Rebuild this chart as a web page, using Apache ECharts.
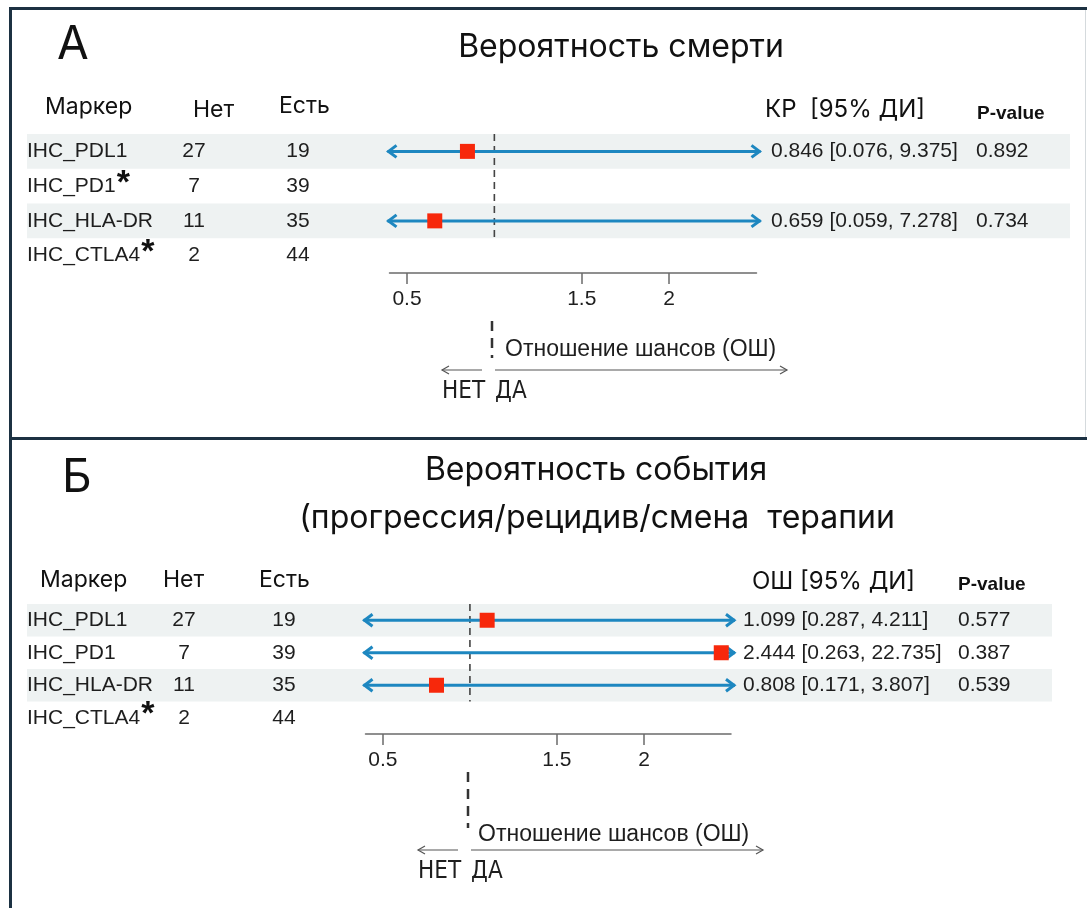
<!DOCTYPE html>
<html>
<head>
<meta charset="utf-8">
<script src="https://cdn.jsdelivr.net/npm/echarts@6/dist/echarts.min.js"></script>
<style>
  html, body { margin: 0; padding: 0; background: #fff; }
  #chart { width: 1087px; height: 908px; }
</style>
</head>
<body>
<div id="chart"></div>
<script>
// Rows shared by both forest plots
const markers  = ['IHC_PDL1', 'IHC_PD1', 'IHC_HLA-DR', 'IHC_CTLA4'];
const countNo  = [27, 7, 11, 2];
const countYes = [19, 39, 35, 44];

// Panel А — probability of death (КР, 95% ДИ)
const starA = [false, true, false, true];
const estA  = [0.846, null, 0.659, null];
const lowA  = [0.076, null, 0.059, null];
const highA = [9.375, null, 7.278, null];
const pA    = [0.892, null, 0.734, null];

// Panel Б — probability of event (ОШ, 95% ДИ)
const starB = [false, false, false, true];
const estB  = [1.099, 2.444, 0.808, null];
const lowB  = [0.287, 0.263, 0.171, null];
const highB = [4.211, 22.735, 3.807, null];
const pB    = [0.577, 0.387, 0.539, null];

// Odds-ratio axis
const axisMin = 0.4, axisMax = 2.5;
const tickValues = [0.5, 1.5, 2];
const refValue = 1;

const SANS = '"Liberation Sans", Arial, sans-serif';
const HEAD = 'Inter, "Noto Sans", sans-serif';
const NARROW = '"Liberation Sans Narrow", "DejaVu Sans Condensed", sans-serif';
const BLUE = '#1d87c0';
const RED = '#f7280b';
const TXT = '#1e1e1e';

const panels = [
  { grid: { left: 389.5, top: 134, width: 367, height: 139 },
    bandLeft: 27, bandRight: 1070, colLabel: 27, colNo: 194, colYes: 298, colCI: 771, colP: 976,
    star: starA, est: estA, low: lowA, high: highA, p: pA },
  { grid: { left: 365.5, top: 604, width: 365.5, height: 130 },
    bandLeft: 27, bandRight: 1052, colLabel: 27, colNo: 184, colYes: 284, colCI: 743, colP: 958,
    star: starB, est: estB, low: lowB, high: highB, p: pB }
];

const measureCtx = document.createElement('canvas').getContext('2d');
function textWidth(s, font) { measureCtx.font = font; return measureCtx.measureText(s).width; }

function txt(x, y, s, font, align, fill) {
  return { type: 'text', x: x, y: y, z2: 5,
    style: { text: s, x: 0, y: 0, font: font, fill: fill || TXT,
      align: align, textAlign: align, verticalAlign: 'middle', textVerticalAlign: 'middle' } };
}

// Row bands and table columns
function tableSeries(k, P) {
  const rowFont = '21px ' + SANS;
  return {
    type: 'custom', xAxisIndex: k, yAxisIndex: k, z: 1, silent: true,
    encode: { x: 0, y: 1 },
    data: markers.map((m, i) => [refValue, i]),
    renderItem(params, api) {
      const i = api.value(1);
      const y = api.coord([refValue, i])[1];
      const h = api.size([0, 1])[1];
      const children = [];
      if (i % 2 === 0) {
        children.push({ type: 'rect', z2: 0,
          shape: { x: P.bandLeft, y: y - h / 2, width: P.bandRight - P.bandLeft, height: h },
          style: { fill: '#eef2f2' } });
      }
      children.push(txt(P.colLabel, y, markers[i], rowFont, 'left'));
      if (P.star[i]) {
        const w = textWidth(markers[i], rowFont);
        children.push(txt(P.colLabel + w + 1, y - 3, '*', 'bold 34px ' + SANS, 'left', '#111'));
      }
      children.push(txt(P.colNo, y, String(countNo[i]), rowFont, 'center'));
      children.push(txt(P.colYes, y, String(countYes[i]), rowFont, 'center'));
      if (P.est[i] != null) {
        const ci = P.est[i].toFixed(3) + ' [' + P.low[i].toFixed(3) + ', ' + P.high[i].toFixed(3) + ']';
        children.push(txt(P.colCI, y, ci, rowFont, 'left'));
        children.push(txt(P.colP, y, P.p[i].toFixed(3), rowFont, 'left'));
      }
      return { type: 'group', children: children };
    }
  };
}

// Confidence intervals, clipped to the axis with arrowheads
function ciSeries(k, P) {
  const data = [];
  markers.forEach((m, i) => { if (P.low[i] != null) data.push([P.low[i], P.high[i], i]); });
  return {
    type: 'custom', xAxisIndex: k, yAxisIndex: k, z: 3, silent: true,
    encode: { x: [0, 1], y: 2 },
    data: data,
    renderItem(params, api) {
      const lo = api.value(0), hi = api.value(1), i = api.value(2);
      const y = api.coord([refValue, i])[1];
      const clipL = lo < axisMin, clipR = hi > axisMax;
      const x1 = api.coord([Math.max(lo, axisMin), i])[0] - (clipL ? 2 : 0);
      const x2 = api.coord([Math.min(hi, axisMax), i])[0] + (clipR ? 4 : 0);
      const st = { stroke: BLUE, lineWidth: 3, fill: null, lineJoin: 'miter' };
      const children = [{ type: 'line', shape: { x1: x1, y1: y, x2: x2, y2: y }, style: st }];
      if (clipL) children.push({ type: 'polyline', shape: { points: [[x1 + 9, y - 6], [x1 + 1, y], [x1 + 9, y + 6]] }, style: st });
      if (clipR) children.push({ type: 'polyline', shape: { points: [[x2 - 9, y - 6], [x2 - 1, y], [x2 - 9, y + 6]] }, style: st });
      return { type: 'group', children: children };
    }
  };
}

// Dashed line of no effect across the first three rows
function refSeries(k) {
  return {
    type: 'custom', xAxisIndex: k, yAxisIndex: k, z: 2, silent: true,
    encode: { x: 0, y: [1, 2] },
    data: [[refValue, 0, 2]],
    renderItem(params, api) {
      const v = api.value(0);
      const h = api.size([0, 1])[1];
      const x = api.coord([v, 0])[0];
      const y1 = api.coord([v, api.value(1)])[1] - h / 2;
      const y2 = api.coord([v, api.value(2)])[1] + h / 2;
      return { type: 'line', shape: { x1: x, y1: y1, x2: x, y2: y2 },
        style: { stroke: '#444', lineWidth: 1.6, lineDash: [7, 5] } };
    }
  };
}

function estSeries(k, P) {
  const data = [];
  P.est.forEach((v, i) => { if (v != null) data.push([v, i]); });
  return { type: 'scatter', xAxisIndex: k, yAxisIndex: k, z: 4, silent: true,
    symbol: 'rect', symbolSize: 15, itemStyle: { color: RED, opacity: 1 }, data: data };
}

function xAxisOf(k) {
  return { gridIndex: k, type: 'value', min: axisMin, max: axisMax,
    splitLine: { show: false },
    axisLine: { show: true, onZero: false, lineStyle: { color: '#6b6b6b', width: 1.5 } },
    axisTick: { show: true, customValues: tickValues, length: 11, lineStyle: { color: '#6b6b6b', width: 1.5 } },
    axisLabel: { customValues: tickValues, color: TXT, fontSize: 21, fontFamily: 'Liberation Sans', margin: 16,
      formatter: v => String(v) } };
}

// Static annotations: frame, panel letters, titles, headers, direction arrows
function hline(x1, x2, y, color, w) { return { type: 'line', shape: { x1: x1, y1: y, x2: x2, y2: y }, style: { stroke: color, lineWidth: w } }; }
function vline(x, y1, y2, color, w, dash) { return { type: 'line', shape: { x1: x, y1: y1, x2: x, y2: y2 }, style: { stroke: color, lineWidth: w, lineDash: dash || null } }; }
function gtext(x, y, s, font, align, fill) {
  return { type: 'text', x: x, y: y,
    style: { text: s, font: font, fill: fill || '#111', textAlign: align, textVerticalAlign: 'middle', align: align, verticalAlign: 'middle' } };
}
function directionArrows(xRef, yDash1, yDash2, yLabel, xLabel, yArrow, xLeft, xRight, yNo) {
  const st = { stroke: '#555', lineWidth: 1.2, fill: null };
  return [
    vline(xRef, yDash1, yDash2, '#333', 2.5, [10, 7]),
    gtext(xLabel, yLabel, 'Отношение шансов (ОШ)', '23px ' + SANS, 'left', TXT),
    { type: 'line', shape: { x1: xRef - 10, y1: yArrow, x2: xLeft, y2: yArrow }, style: st },
    { type: 'polyline', shape: { points: [[xLeft + 7, yArrow - 4], [xLeft, yArrow], [xLeft + 7, yArrow + 4]] }, style: st },
    { type: 'line', shape: { x1: xRef + 3, y1: yArrow, x2: xRight, y2: yArrow }, style: st },
    { type: 'polyline', shape: { points: [[xRight - 7, yArrow - 4], [xRight, yArrow], [xRight - 7, yArrow + 4]] }, style: st },
    gtext(xLeft, yNo, 'НЕТ', '24px ' + NARROW, 'left', TXT),
    gtext(xRef + 3, yNo, 'ДА', '24px ' + NARROW, 'left', TXT)
  ];
}

const FRAME = '#1c3142';
const graphics = [
  hline(10, 1087, 8.5, FRAME, 3),
  vline(10.5, 7, 908, FRAME, 3),
  hline(10, 1087, 438.5, FRAME, 3),
  vline(1085.5, 10, 437, '#d5dadd', 1),

  gtext(57, 45, 'А', '46px ' + HEAD, 'left'),
  gtext(621, 47, 'Вероятность смерти', '32px ' + HEAD, 'center'),
  gtext(45, 107, 'Маркер', '23px ' + HEAD, 'left'),
  gtext(193, 110, 'Нет', '23px ' + HEAD, 'left'),
  gtext(279, 106, 'Есть', '23px ' + HEAD, 'left'),
  gtext(765, 110, 'КР  [95% ДИ]', '24px ' + HEAD, 'left'),
  gtext(977, 114, 'P-value', 'bold 19px ' + SANS, 'left'),

  gtext(62, 478, 'Б', '46px ' + HEAD, 'left'),
  gtext(596, 470, 'Вероятность события', '32px ' + HEAD, 'center'),
  gtext(597, 518, '(прогрессия/рецидив/смена  терапии', '32px ' + HEAD, 'center'),
  gtext(40, 580, 'Маркер', '23px ' + HEAD, 'left'),
  gtext(163, 580, 'Нет', '23px ' + HEAD, 'left'),
  gtext(259, 580, 'Есть', '23px ' + HEAD, 'left'),
  gtext(752, 582, 'ОШ [95% ДИ]', '24px ' + HEAD, 'left'),
  gtext(958, 585, 'P-value', 'bold 19px ' + SANS, 'left')
].concat(
  directionArrows(492, 321, 358, 350, 505, 370, 442, 787, 392),
  directionArrows(468, 772, 828, 835, 478, 850, 418, 763, 872)
);

const chart = echarts.init(document.getElementById('chart'), null, { renderer: 'canvas' });
const series = [];
panels.forEach((P, k) => {
  series.push(tableSeries(k, P), refSeries(k), ciSeries(k, P), estSeries(k, P));
});

chart.setOption({
  backgroundColor: '#ffffff',
  animation: false,
  grid: panels.map(P => Object.assign({ containLabel: false }, P.grid)),
  xAxis: panels.map((P, k) => xAxisOf(k)),
  yAxis: panels.map((P, k) => ({ gridIndex: k, type: 'category', data: markers, inverse: true, show: false })),
  series: series,
  graphic: { elements: graphics }
});
</script>
</body>
</html>
